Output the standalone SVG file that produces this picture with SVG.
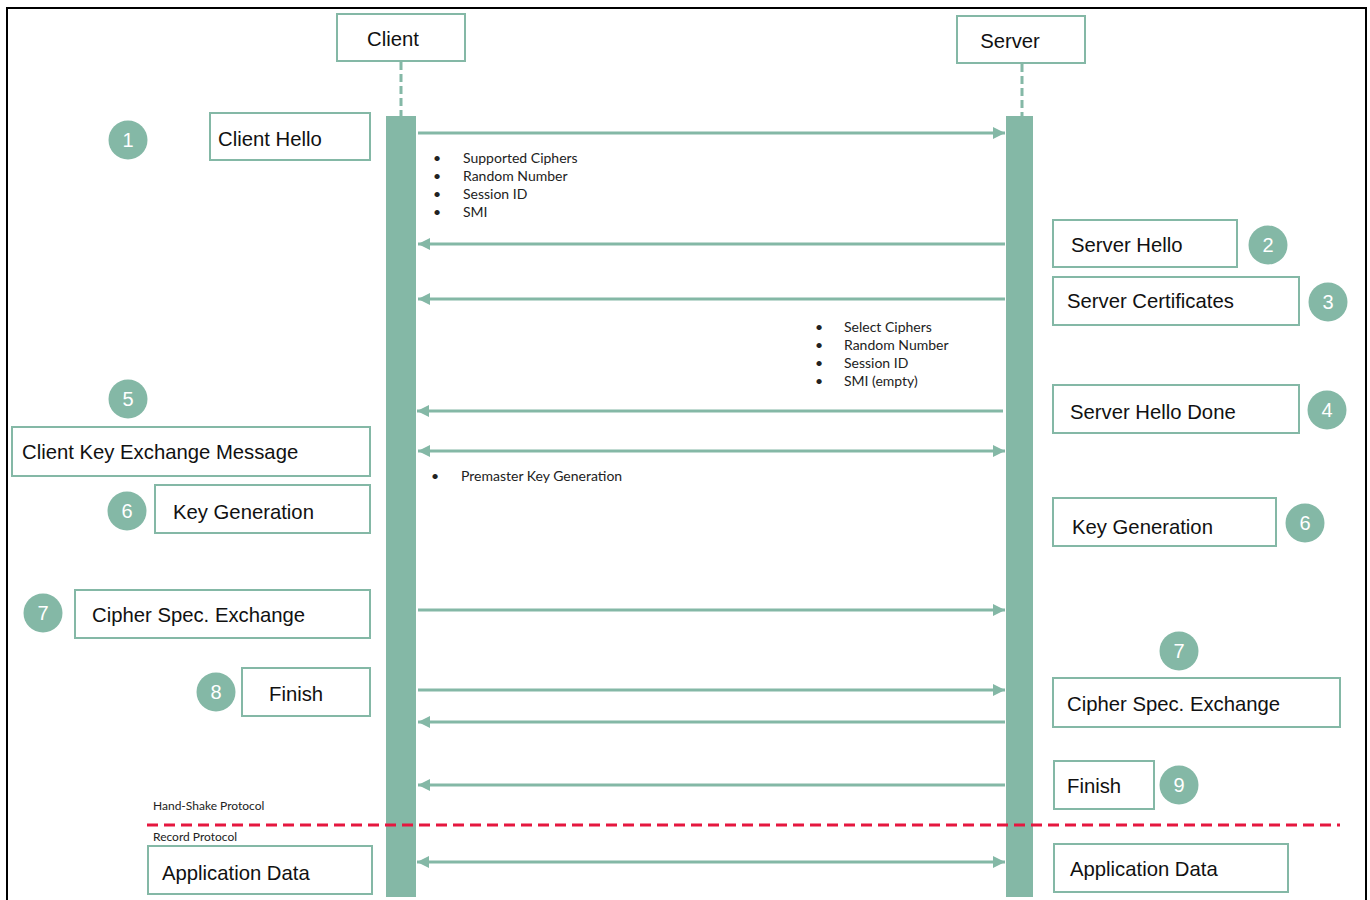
<svg xmlns="http://www.w3.org/2000/svg" width="1370" height="900" viewBox="0 0 1370 900">
<style>
.box{fill:#fff;stroke:#84B8A6;stroke-width:2}
.lbl{font-family:"Liberation Sans",Arial,sans-serif;font-size:20.3px;fill:#111}
.num{font-family:"Liberation Sans",Arial,sans-serif;font-size:20px;fill:#fff;text-anchor:middle}
.dot{fill:#84B8A6}
.sm{font-family:Lato,"Liberation Sans",sans-serif;font-size:14px;fill:#222}
.tiny{font-family:Lato,"Liberation Sans",sans-serif;font-size:12px;fill:#222}
.msg{stroke:#84B8A6;stroke-width:3;fill:none}
.bar{fill:#84B8A6}
</style>
<defs>
<marker id="ah" viewBox="0 0 10 10" refX="10" refY="5" markerWidth="4" markerHeight="4.4" orient="auto-start-reverse" markerUnits="strokeWidth">
<path d="M0,0 L10,5 L0,10 z" fill="#84B8A6"/>
</marker>
</defs>
<rect x="0" y="0" width="1370" height="900" fill="#fff"/>
<path d="M7,900 V8 H1366 V900" fill="none" stroke="#000" stroke-width="2"/>

<g id="lifelines">
<line x1="401" y1="62" x2="401" y2="116" stroke="#84B8A6" stroke-width="3" stroke-dasharray="8,4"/>
<line x1="1022" y1="64" x2="1022" y2="116" stroke="#84B8A6" stroke-width="3" stroke-dasharray="8,4"/>
<rect class="bar" x="386" y="116" width="30" height="781"/>
<rect class="bar" x="1006" y="116" width="27" height="781"/>
</g>

<g id="client"><rect class="box" x="337" y="14" width="128" height="47"/><text class="lbl" x="393" y="46" text-anchor="middle">Client</text></g>
<g id="server"><rect class="box" x="957" y="16" width="128" height="47"/><text class="lbl" x="1010" y="48" text-anchor="middle">Server</text></g>

<g id="connectors">
<line class="msg" x1="418" y1="133" x2="1005" y2="133" marker-end="url(#ah)"/>
<line class="msg" x1="1005" y1="244" x2="418" y2="244" marker-end="url(#ah)"/>
<line class="msg" x1="1005" y1="299" x2="418" y2="299" marker-end="url(#ah)"/>
<line class="msg" x1="1003" y1="411" x2="417" y2="411" marker-end="url(#ah)"/>
<line class="msg" x1="418" y1="451" x2="1005" y2="451" marker-start="url(#ah)" marker-end="url(#ah)"/>
<line class="msg" x1="418" y1="610" x2="1005" y2="610" marker-end="url(#ah)"/>
<line class="msg" x1="418" y1="690" x2="1005" y2="690" marker-end="url(#ah)"/>
<line class="msg" x1="1005" y1="722" x2="418" y2="722" marker-end="url(#ah)"/>
<line class="msg" x1="1005" y1="785" x2="418" y2="785" marker-end="url(#ah)"/>
<line class="msg" x1="417" y1="862" x2="1005" y2="862" marker-start="url(#ah)" marker-end="url(#ah)"/>
</g>

<g id="divider">
<line x1="147" y1="825" x2="1340" y2="825" stroke="#E5173F" stroke-width="3" stroke-dasharray="11,6"/>
<text class="tiny" x="153" y="810">Hand-Shake Protocol</text>
<text class="tiny" x="153" y="841">Record Protocol</text>
</g>

<g id="notes1">
<text class="sm" x="433" y="163">•</text><text class="sm" x="463" y="163">Supported Ciphers</text>
<text class="sm" x="433" y="181">•</text><text class="sm" x="463" y="181">Random Number</text>
<text class="sm" x="433" y="199">•</text><text class="sm" x="463" y="199">Session ID</text>
<text class="sm" x="433" y="217">•</text><text class="sm" x="463" y="217">SMI</text>
</g>
<g id="notes2">
<text class="sm" x="815" y="332">•</text><text class="sm" x="844" y="332">Select Ciphers</text>
<text class="sm" x="815" y="350">•</text><text class="sm" x="844" y="350">Random Number</text>
<text class="sm" x="815" y="368">•</text><text class="sm" x="844" y="368">Session ID</text>
<text class="sm" x="815" y="386">•</text><text class="sm" x="844" y="386">SMI (empty)</text>
</g>
<g id="notes3">
<text class="sm" x="431" y="481">•</text><text class="sm" x="461" y="481">Premaster Key Generation</text>
</g>

<g id="client-hello"><rect class="box" x="210" y="113" width="160" height="47"/><text class="lbl" x="218" y="146">Client Hello</text></g>
<g id="step1"><circle class="dot" cx="128" cy="140" r="19.5"/><text class="num" x="128" y="147">1</text></g>

<g id="server-hello"><rect class="box" x="1053" y="220" width="184" height="47"/><text class="lbl" x="1071" y="252">Server Hello</text></g>
<g id="step2"><circle class="dot" cx="1268" cy="245" r="19.5"/><text class="num" x="1268" y="252">2</text></g>

<g id="server-cert"><rect class="box" x="1053" y="277" width="246" height="48"/><text class="lbl" x="1067" y="308">Server Certificates</text></g>
<g id="step3"><circle class="dot" cx="1328" cy="302" r="19.5"/><text class="num" x="1328" y="309">3</text></g>

<g id="server-hello-done"><rect class="box" x="1053" y="385" width="246" height="48"/><text class="lbl" x="1070" y="419">Server Hello Done</text></g>
<g id="step4"><circle class="dot" cx="1327" cy="410" r="19.5"/><text class="num" x="1327" y="417">4</text></g>

<g id="step5"><circle class="dot" cx="128" cy="399" r="19.5"/><text class="num" x="128" y="406">5</text></g>
<g id="client-key-exchange"><rect class="box" x="12" y="427" width="358" height="49"/><text class="lbl" x="22" y="459">Client Key Exchange Message</text></g>

<g id="key-gen-left"><rect class="box" x="155" y="485" width="215" height="48"/><text class="lbl" x="173" y="519">Key Generation</text></g>
<g id="step6a"><circle class="dot" cx="127" cy="511" r="19.5"/><text class="num" x="127" y="518">6</text></g>

<g id="key-gen-right"><rect class="box" x="1053" y="498" width="223" height="48"/><text class="lbl" x="1072" y="534">Key Generation</text></g>
<g id="step6b"><circle class="dot" cx="1305" cy="523" r="19.5"/><text class="num" x="1305" y="530">6</text></g>

<g id="cipher-left"><rect class="box" x="75" y="590" width="295" height="48"/><text class="lbl" x="92" y="622">Cipher Spec. Exchange</text></g>
<g id="step7a"><circle class="dot" cx="43" cy="613" r="19.5"/><text class="num" x="43" y="620">7</text></g>

<g id="finish-left"><rect class="box" x="242" y="668" width="128" height="48"/><text class="lbl" x="269" y="701">Finish</text></g>
<g id="step8"><circle class="dot" cx="216" cy="692" r="19.5"/><text class="num" x="216" y="699">8</text></g>

<g id="step7b"><circle class="dot" cx="1179" cy="651" r="19.5"/><text class="num" x="1179" y="658">7</text></g>
<g id="cipher-right"><rect class="box" x="1053" y="678" width="287" height="49"/><text class="lbl" x="1067" y="711">Cipher Spec. Exchange</text></g>

<g id="finish-right"><rect class="box" x="1054" y="761" width="100" height="48"/><text class="lbl" x="1067" y="793">Finish</text></g>
<g id="step9"><circle class="dot" cx="1179" cy="785" r="19.5"/><text class="num" x="1179" y="792">9</text></g>

<g id="app-data-left"><rect class="box" x="148" y="846" width="224" height="48"/><text class="lbl" x="162" y="880">Application Data</text></g>
<g id="app-data-right"><rect class="box" x="1054" y="844" width="234" height="48"/><text class="lbl" x="1070" y="876">Application Data</text></g>
</svg>
